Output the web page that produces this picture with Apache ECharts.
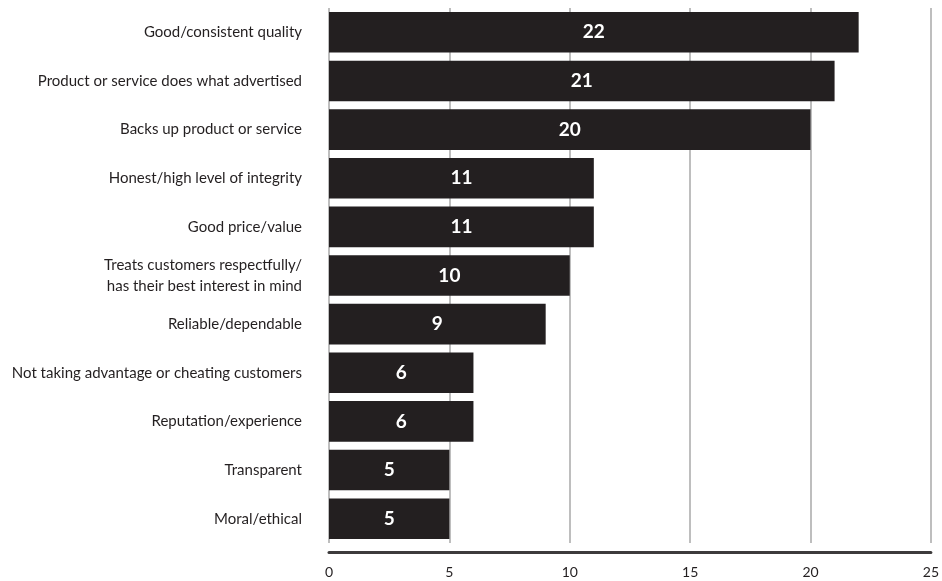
<!DOCTYPE html>
<html><head><meta charset="utf-8">
<script src="https://cdn.jsdelivr.net/npm/echarts@6/dist/echarts.min.js"></script>
<style>html,body{margin:0;padding:0;background:#fff}#c{width:942px;height:581px}</style>
</head><body><div id="c"></div>
<script>
const categories = [
  "Good/consistent quality",
  "Product or service does what advertised",
  "Backs up product or service",
  "Honest/high level of integrity",
  "Good price/value",
  "Treats customers respectfully/\nhas their best interest in mind",
  "Reliable/dependable",
  "Not taking advantage or cheating customers",
  "Reputation/experience",
  "Transparent",
  "Moral/ethical"
];
const values = [22, 21, 20, 11, 11, 10, 9, 6, 6, 5, 5];
const xTicks = [0, 5, 10, 15, 20, 25];

const chart = echarts.init(document.getElementById('c'));
chart.setOption({
  animation: false,
  grid: { left: 329, right: 11, top: 8, bottom: 38, containLabel: false },
  xAxis: {
    type: 'value', min: 0, max: 25, interval: 5,
    offset: 9,
    axisLine: { show: true, lineStyle: { color: '#3d3b3c', width: 3 } },
    axisTick: { show: false },
    axisLabel: { margin: 13, color: '#231f20', fontFamily: 'Lato', fontSize: 14,
      formatter: v => xTicks.includes(v) ? String(v) : '' },
    splitLine: { show: true, lineStyle: { color: '#a8a8a8', width: 1.5 } }
  },
  yAxis: {
    type: 'category', data: categories, inverse: true,
    axisLine: { show: false }, axisTick: { show: false },
    axisLabel: { margin: 27, color: '#231f20', fontFamily: 'Lato', fontSize: 15, lineHeight: 21, align: 'right' }
  },
  series: [{
    type: 'bar', data: values, barCategoryGap: '16.5%',
    itemStyle: { color: '#231f20' },
    label: { show: true, position: 'inside', color: '#fff', fontFamily: 'Lato', fontWeight: 'bold', fontSize: 19 }
  }]
});
</script></body></html>
